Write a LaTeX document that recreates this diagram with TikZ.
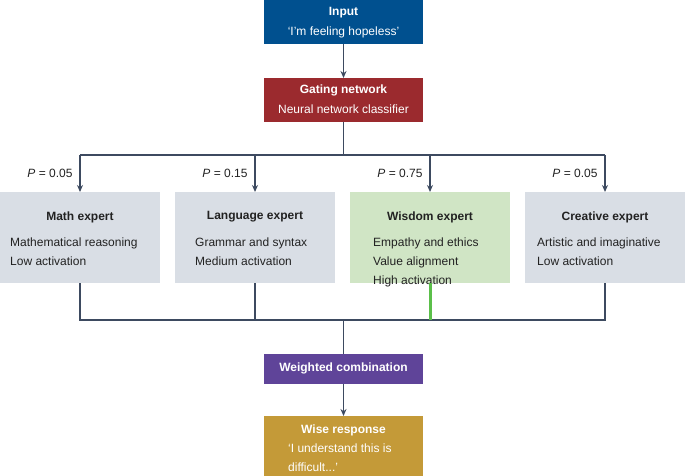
\documentclass[tikz,border=0pt]{standalone}
\usepackage{fontspec}
\setmainfont{Liberation Sans}
\usetikzlibrary{arrows.meta}
\definecolor{cblue}{HTML}{00508F}
\definecolor{cred}{HTML}{9B2A2E}
\definecolor{cgray}{HTML}{D9DEE5}
\definecolor{cgreen}{HTML}{D0E5C5}
\definecolor{lgreen}{HTML}{5BBF4A}
\definecolor{cpurple}{HTML}{5F4499}
\definecolor{cgold}{HTML}{C49A38}
\definecolor{cline}{HTML}{3D4A60}
\definecolor{ctext}{HTML}{222222}
\begin{document}
\begin{tikzpicture}[x=1pt,y=-1pt,
  ln/.style={draw=cline,line width=1.8pt},
  arr/.style={ln,-{Stealth[length=7pt,width=6pt]}},
  ttl/.style={font=\bfseries\fontsize{12}{14}\selectfont,anchor=center},
  plain/.style={font=\fontsize{12}{14}\selectfont,anchor=center},
  body/.style={font=\fontsize{12}{19}\selectfont,align=left,anchor=north west,inner sep=0pt},
  plab/.style={font=\fontsize{12}{14}\selectfont,anchor=east,text=ctext}]
\useasboundingbox (0,0) rectangle (685,476);
% top boxes
\fill[cblue] (264,0) rectangle (423,44);
\node[coordinate] (inb) at (343.5,44) {};
\node[ttl,text=white] (int) at (343.5,13) {Input};
\node[plain,text=white] (inx) at (343.5,32) {‘I’m feeling hopeless’};
\fill[cred] (264,78) rectangle (423,122);
\node[coordinate] (gt) at (343.5,78) {};
\node[coordinate] (gbot) at (343.5,122) {};
\node[ttl,text=white] (gtt) at (343.5,90) {Gating network};
\node[plain,text=white] (gtx) at (343.5,109) {Neural network classifier};
\draw[arr] (inb) -- (gt);
% experts
\fill[cgray] (0,192) rectangle (160,283);
\fill[cgray] (175,192) rectangle (335,283);
\fill[cgreen] (350,192) rectangle (510,283);
\fill[cgray] (525,192) rectangle (685,283);
\node[ttl,text=ctext] (m) at (80,217) {Math expert};
\node[ttl,text=ctext] (l) at (255,217) {Language expert};
\node[ttl,text=ctext] (w) at (430,217) {Wisdom expert};
\node[ttl,text=ctext] (c) at (605,217) {Creative expert};
\node[body,text=ctext] (mb) at (10,238) {Mathematical reasoning\\Low activation};
\node[body,text=ctext] (lb) at (195,238) {Grammar and syntax\\Medium activation};
\node[body,text=ctext] (wb) at (373,238) {Empathy and ethics\\Value alignment\\High activation};
\node[body,text=ctext] (cb) at (537,238) {Artistic and imaginative\\Low activation};
% bus top
\node[coordinate] (bt) at (343.5,155) {};
\foreach \x/\n in {80/a,255/b,430/c,605/d}{
  \node[coordinate] (t\n) at (\x,155) {};
  \node[coordinate] (e\n) at (\x,192) {};
  \node[coordinate] (f\n) at (\x,283) {};
  \node[coordinate] (h\n) at (\x,320) {};
}
\draw[ln] (gbot) -- (bt);
\draw[ln] (ta) -- (td);
\foreach \n in {a,b,c,d}{\draw[arr] (t\n) -- (e\n);}
\node[plab] (pa) at (76,173) {\textit{P} = 0.05};
\node[plab] (pb) at (251,173) {\textit{P} = 0.15};
\node[plab] (pc) at (426,173) {\textit{P} = 0.75};
\node[plab] (pd) at (601,173) {\textit{P} = 0.05};
% bottom bus
\draw[ln] (fa) -- (ha) -- (hd) -- (fd);
\draw[ln] (fb) -- (hb);
\draw[draw=lgreen,line width=3pt] (fc) -- (hc);
\node[coordinate] (bb) at (343.5,320) {};
\fill[cpurple] (264,354) rectangle (423,384);
\node[coordinate] (wt) at (343.5,354) {};
\node[coordinate] (wbm) at (343.5,384) {};
\node[ttl,text=white] (wc) at (343.5,368) {Weighted combination};
\draw[ln] (bb) -- (wt);
\fill[cgold] (264,416) rectangle (423,476);
\node[coordinate] (rt) at (343.5,416) {};
\node[ttl,text=white] (rtt) at (343.5,430) {Wise response};
\node[body,text=white] (rb) at (288,444) {‘I understand this is\\difficult...’};
\draw[arr] (wbm) -- (rt);
\end{tikzpicture}
\end{document}
